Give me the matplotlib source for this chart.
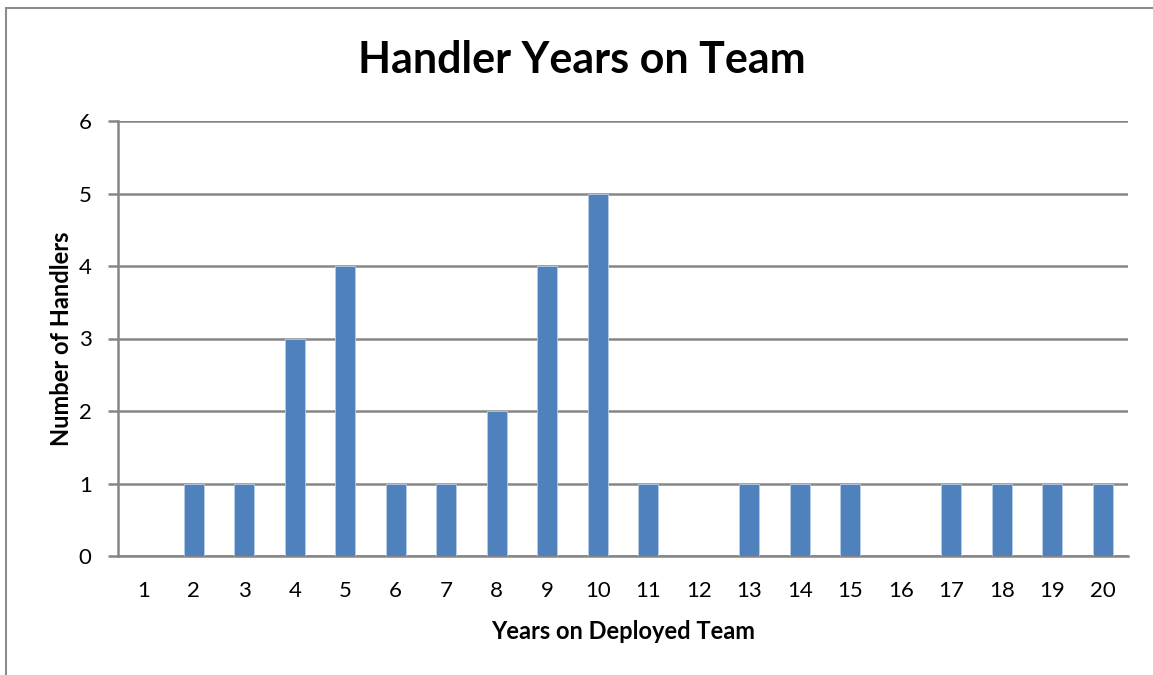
import matplotlib.pyplot as plt
from matplotlib.patches import Rectangle

# data
years = list(range(1, 21))
handlers = [0, 1, 1, 3, 4, 1, 1, 2, 4, 5, 1, 0, 1, 1, 1, 0, 1, 1, 1, 1]
y_ticks = [0, 1, 2, 3, 4, 5, 6]

plt.rcParams["font.family"] = ["Lato", "DejaVu Sans"]

fig = plt.figure(figsize=(11.53, 6.75), dpi=100)
W, H = 1153, 675

# chart border (right/bottom edges fall off the image)
fig.patches.append(Rectangle((6 / W, -0.1), 1.2, (H - 8) / H + 0.1,
                             transform=fig.transFigure, fill=False,
                             edgecolor="#8c8c8c", linewidth=1.5))

ax = fig.add_axes([118 / W, (H - 556) / H, (1128 - 118) / W, (556 - 121) / H])

ax.bar(years, handlers, width=0.4, color="#4F81BD", edgecolor="#b9cde5",
       linewidth=0.6, zorder=3)

ax.set_xlim(0.5, 20.5)
ax.set_ylim(0, 6)
ax.set_yticks(y_ticks)
ax.set_xticks(years)
ax.grid(axis="y", color="#868686", linewidth=1.8, zorder=0)

for s in ["top", "right"]:
    ax.spines[s].set_visible(False)
ax.spines["left"].set_color("#868686")
ax.spines["left"].set_linewidth(1.8)
ax.spines["bottom"].set_color("#868686")
ax.spines["bottom"].set_linewidth(1.8)

ax.tick_params(axis="y", length=7, width=1.8, color="#868686", labelsize=16, pad=12)
ax.tick_params(axis="x", length=0, labelsize=16, pad=18)

ax.set_xlabel("Years on Deployed Team", fontsize=17, fontweight="bold", labelpad=14)
ax.set_ylabel("Number of Handlers", fontsize=17, fontweight="bold", labelpad=4)
fig.text(582 / W, 1 - 60 / H, "Handler Years on Team", ha="center", va="center",
         fontsize=31, fontweight="bold")

fig.savefig("out.png", dpi=100)
